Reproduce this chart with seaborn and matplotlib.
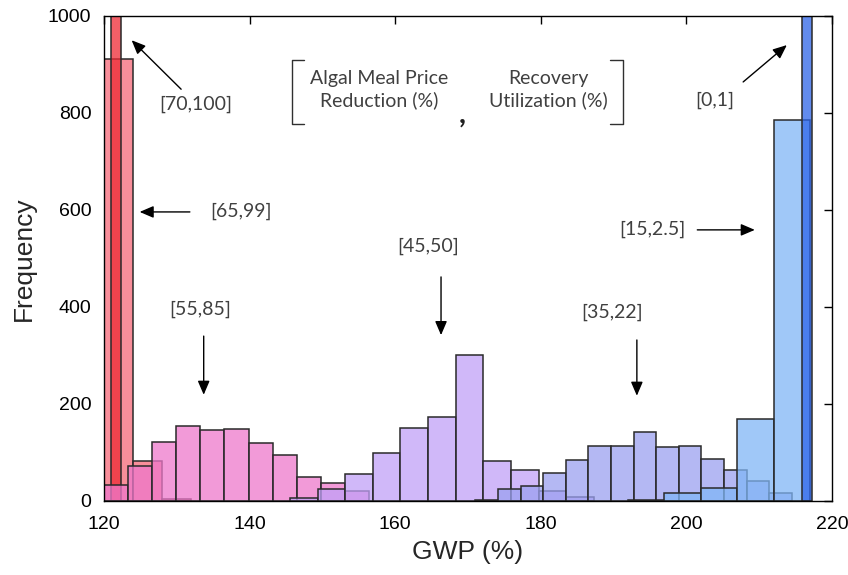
import numpy as np
import pandas as pd
import matplotlib
matplotlib.use("Agg")
import matplotlib.pyplot as plt
import seaborn as sns

# ---- data (histogram bins) ----
labels = ["[70,100]", "[65,99]", "[55,85]", "[45,50]", "[35,22]", "[15,2.5]", "[0,1]"]

start_65_99, width_65_99 = 120.0, 4.0
counts_65_99 = [911, 82, 4]

start_70_100, width_70_100 = 120.96, 1.37
counts_70_100 = [1000]

start_55_85, width_55_85 = 120.0, 3.31
counts_55_85 = [33, 72, 122, 155, 146, 148, 120, 95, 49, 37, 21]

start_45_50, width_45_50 = 145.55, 3.795
counts_45_50 = [6, 25, 56, 98, 151, 174, 302, 82, 63, 21, 9]

start_35_22, width_35_22 = 171.01, 3.106
counts_35_22 = [3, 25, 31, 58, 85, 113, 113, 143, 111, 113, 87, 63, 42, 16]

start_15_2_5, width_15_2_5 = 191.98, 5.0
counts_15_2_5 = [3, 16, 27, 169, 786]

start_0_1, width_0_1 = 215.88, 1.37
counts_0_1 = [1000]

x_ticks = [120, 140, 160, 180, 200, 220]
y_ticks = [0, 200, 400, 600, 800, 1000]

colors = {
    "[65,99]": "#f66878",
    "[70,100]": "#ed2a34",
    "[55,85]": "#ee78cb",
    "[45,50]": "#c1a0f8",
    "[35,22]": "#9ba0f0",
    "[15,2.5]": "#80b6f6",
    "[0,1]": "#2d65e8",
}

sns.set_style("white")
plt.rcParams["font.family"] = ["Liberation Sans", "DejaVu Sans"]

fig = plt.figure(figsize=(8.48, 5.75), dpi=100)
ax = fig.add_axes([0.1226, 0.1287, 0.8585, 0.8435])


def draw(start, width, counts, color):
    n = len(counts)
    edges = [float(start + width * i) for i in range(n + 1)]
    centers = [float(start + width * (i + 0.5)) for i in range(n)]
    df = pd.DataFrame({"gwp": centers, "count": [float(c) for c in counts]})
    sns.histplot(data=df, x="gwp", weights="count", bins=edges, color=color,
                 alpha=0.75, edgecolor="#2a2a2a", linewidth=1.1, ax=ax)


draw(start_65_99, width_65_99, counts_65_99, colors["[65,99]"])
draw(start_70_100, width_70_100, counts_70_100, colors["[70,100]"])
draw(start_55_85, width_55_85, counts_55_85, colors["[55,85]"])
draw(start_45_50, width_45_50, counts_45_50, colors["[45,50]"])
draw(start_35_22, width_35_22, counts_35_22, colors["[35,22]"])
draw(start_15_2_5, width_15_2_5, counts_15_2_5, colors["[15,2.5]"])
draw(start_0_1, width_0_1, counts_0_1, colors["[0,1]"])

ax.set_xlim(120, 220)
ax.set_ylim(0, 1000)
ax.set_xticks(x_ticks)
ax.set_yticks(y_ticks)
ax.tick_params(direction="in", length=6, width=1, top=True, right=True,
               labelsize=14, colors="black")
ax.tick_params(axis="x", pad=11)
ax.tick_params(axis="y", pad=9)
for s in ax.spines.values():
    s.set_visible(True)
    s.set_color("black")
    s.set_linewidth(1.0)

ax.set_xlabel("GWP (%)", fontsize=19, labelpad=5)
ax.set_ylabel("Frequency", fontsize=19, labelpad=9)

# ---- annotations ----
afont = dict(family=["Lato", "DejaVu Sans"], fontsize=14, color="#404040")
arrow = dict(arrowstyle="-|>,head_length=0.7,head_width=0.3", color="black",
             lw=1.0, mutation_scale=12, shrinkA=0, shrinkB=0)

ann = [
    ("[70,100]", (132.6, 818), (130.6, 849), (123.8, 950)),
    ("[65,99]", (138.8, 598), (131.8, 596), (124.9, 596)),
    ("[55,85]", (133.2, 396), (133.7, 340), (133.7, 219)),
    ("[45,50]", (164.5, 526), (166.3, 462), (166.3, 342)),
    ("[35,22]", (189.8, 390), (193.2, 332), (193.2, 217)),
    ("[15,2.5]", (195.3, 561), (201.5, 559), (209.4, 559)),
    ("[0,1]", (203.9, 827), (207.8, 864), (213.8, 940)),
]
for txt, tpos, tail, tip in ann:
    ax.text(tpos[0], tpos[1], txt, ha="center", va="center", **afont)
    ax.annotate("", xy=tip, xytext=tail, arrowprops=arrow)

ax.text(157.8, 849, "Algal Meal Price\nReduction (%)", ha="center", va="center",
        linespacing=1.3, **afont)
ax.text(181.0, 849, "Recovery\nUtilization (%)", ha="center", va="center",
        linespacing=1.3, **afont)
ax.text(169.2, 798, ",", ha="center", va="center",
        family=["Lato", "DejaVu Sans"], fontsize=22, fontweight="bold", color="#202020")

# brackets
bk = dict(color="#303030", lw=1.0)
ax.plot([147.5, 145.8, 145.8, 147.5], [909, 909, 778, 778], **bk)
ax.plot([189.5, 191.3, 191.3, 189.5], [909, 909, 778, 778], **bk)

fig.savefig("out.png", dpi=100)
